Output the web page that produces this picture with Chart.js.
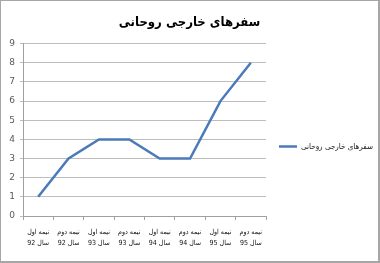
<!DOCTYPE html>
<html>
<head>
<meta charset="utf-8">
<script src="https://cdn.jsdelivr.net/npm/chart.js@4/dist/chart.umd.min.js"></script>
<style>
    body { margin: 0; background: #fff; }
    #wrap { position: absolute; left: 0; top: 0; width: 380px; height: 263px; box-sizing: border-box; border: 1px solid #a6a6a6; border-right-width: 2px; border-bottom-width: 2px; }
</style>
</head>
<body>
<div id="wrap"><canvas id="tripsChart" width="377" height="260"></canvas></div>
<script>
const categories = [
    ['نیمه اول', 'سال 92'], ['نیمه دوم', 'سال 92'],
    ['نیمه اول', 'سال 93'], ['نیمه دوم', 'سال 93'],
    ['نیمه اول', 'سال 94'], ['نیمه دوم', 'سال 94'],
    ['نیمه اول', 'سال 95'], ['نیمه دوم', 'سال 95']
];
const tripCounts = [1, 3, 4, 4, 3, 3, 6, 8];
const yTicks = [0, 1, 2, 3, 4, 5, 6, 7, 8, 9];
const seriesName = 'سفرهای خارجی روحانی';
const chartTitle = 'سفرهای خارجی روحانی';

const ctx = document.getElementById('tripsChart').getContext('2d');
const tripsChart = new Chart(ctx, {
    type: 'line',
    data: {
        labels: categories,
        datasets: [{
            label: seriesName,
            data: tripCounts,
            borderColor: '#4a7ab8',
            backgroundColor: '#4a7ab8',
            borderWidth: 2.5,
            tension: 0,
            pointRadius: 0,
            pointStyle: 'line'
        }]
    },
    options: {
        responsive: false,
        animation: false,
        layout: { padding: { left: 0, right: 0, top: 0, bottom: 0 } },
        plugins: {
            title: {
                display: true,
                text: chartTitle,
                color: '#000',
                font: { family: 'DejaVu Sans Condensed', size: 13, weight: 'bold', lineHeight: 1.2 },
                padding: { top: 14, bottom: 13 }
            },
            legend: {
                position: 'right',
                maxWidth: 112,
                title: { display: true, text: '', font: { size: 1, lineHeight: 1 }, padding: { top: 30, bottom: 0 } },
                labels: {
                    usePointStyle: true,
                    pointStyle: 'line',
                    pointStyleWidth: 18,
                    padding: 13,
                    color: '#222',
                    font: { family: 'DejaVu Sans Condensed', size: 8 }
                }
            },
            tooltip: { enabled: false }
        },
        scales: {
            x: {
                offset: true,
                afterFit: (scale) => { scale.height = 45; },
                grid: { offset: true, drawOnChartArea: false, drawTicks: true, tickLength: 4, color: '#a0a0a0' },
                border: { color: '#a0a0a0' },
                ticks: {
                    maxRotation: 0,
                    autoSkip: false,
                    padding: 6,
                    color: '#111',
                    font: { family: 'DejaVu Sans Condensed', size: 7, lineHeight: 1.65 }
                }
            },
            y: {
                min: yTicks[0],
                max: yTicks[yTicks.length - 1],
                afterFit: (scale) => { scale.width = 22; },
                afterBuildTicks: (scale) => { scale.ticks = yTicks.map(v => ({ value: v })); },
                grid: { color: '#bdbdbd', tickLength: 3 },
                border: { color: '#a0a0a0' },
                ticks: {
                    padding: 5,
                    color: '#595959',
                    font: { family: 'DejaVu Sans', size: 9 }
                }
            }
        }
    }
});
</script>
</body>
</html>
